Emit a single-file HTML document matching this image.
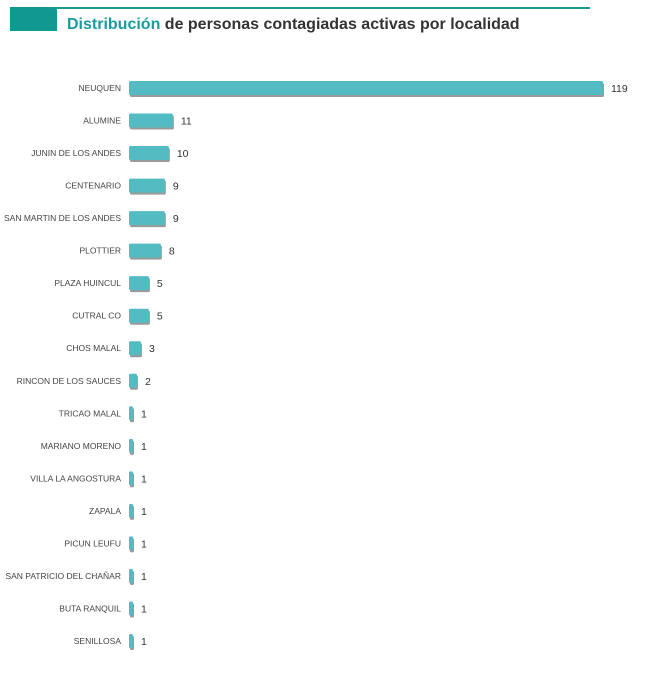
<!DOCTYPE html>
<html><head><meta charset="utf-8"><style>
body{margin:0;background:#fff;width:665px;height:681px;overflow:hidden;font-family:"Liberation Sans",sans-serif}
</style></head><body>
<svg id="chart" width="665" height="681">
<rect x="10" y="7" width="47" height="24" fill="#0f9990"/>
<line x1="50" y1="8" x2="590" y2="8" stroke="#1a9a90" stroke-width="2"/>
<text x="67" y="29" font-size="16" font-weight="bold" fill="#333"><tspan fill="#1a9ba0">Distribución</tspan> de personas contagiadas activas por localidad</text>
<g id="bars"></g>
</svg>
<script>
const categories=["NEUQUEN","ALUMINE","JUNIN DE LOS ANDES","CENTENARIO","SAN MARTIN DE LOS ANDES","PLOTTIER","PLAZA HUINCUL","CUTRAL CO","CHOS MALAL","RINCON DE LOS SAUCES","TRICAO MALAL","MARIANO MORENO","VILLA LA ANGOSTURA","ZAPALA","PICUN LEUFU","SAN PATRICIO DEL CHAÑAR","BUTA RANQUIL","SENILLOSA"];
const values=[119,11,10,9,9,8,5,5,3,2,1,1,1,1,1,1,1,1];
const x0=129,x1=603,maxV=119;
const xs=v=>x0+(v/maxV)*(x1-x0);
const ys=i=>88+i*(641-88)/(categories.length-1);
const g=document.getElementById('bars');
const NS="http://www.w3.org/2000/svg";
categories.forEach((c,i)=>{
  const y=ys(i),w=Math.max(xs(values[i])-x0,4);
  const sh=document.createElementNS(NS,'rect');
  sh.setAttribute('x',x0+1);sh.setAttribute('y',y-5);sh.setAttribute('width',w);sh.setAttribute('height',14);sh.setAttribute('fill','#9a9a9a');sh.setAttribute('rx',1.5);
  
  
  g.appendChild(sh);
  const r=document.createElementNS(NS,'rect');
  r.setAttribute('x',x0);r.setAttribute('y',y-7);r.setAttribute('width',w);r.setAttribute('height',14);r.setAttribute('fill','#52bcc2');r.setAttribute('rx',1.5);
  
  
  g.appendChild(r);
  const t=document.createElementNS(NS,'text');
  t.setAttribute('x',121);t.setAttribute('y',y+3);t.setAttribute('text-anchor','end');t.setAttribute('font-size','8.5');t.setAttribute('fill','#444');
  t.textContent=c;
  
  
  g.appendChild(t);
  const v=document.createElementNS(NS,'text');
  v.setAttribute('x',x0+w+8);v.setAttribute('y',y+4);v.setAttribute('font-size','10.5');v.setAttribute('fill','#333');
  v.textContent=values[i];
  
  
  g.appendChild(v);
});
</script>
</body></html>
